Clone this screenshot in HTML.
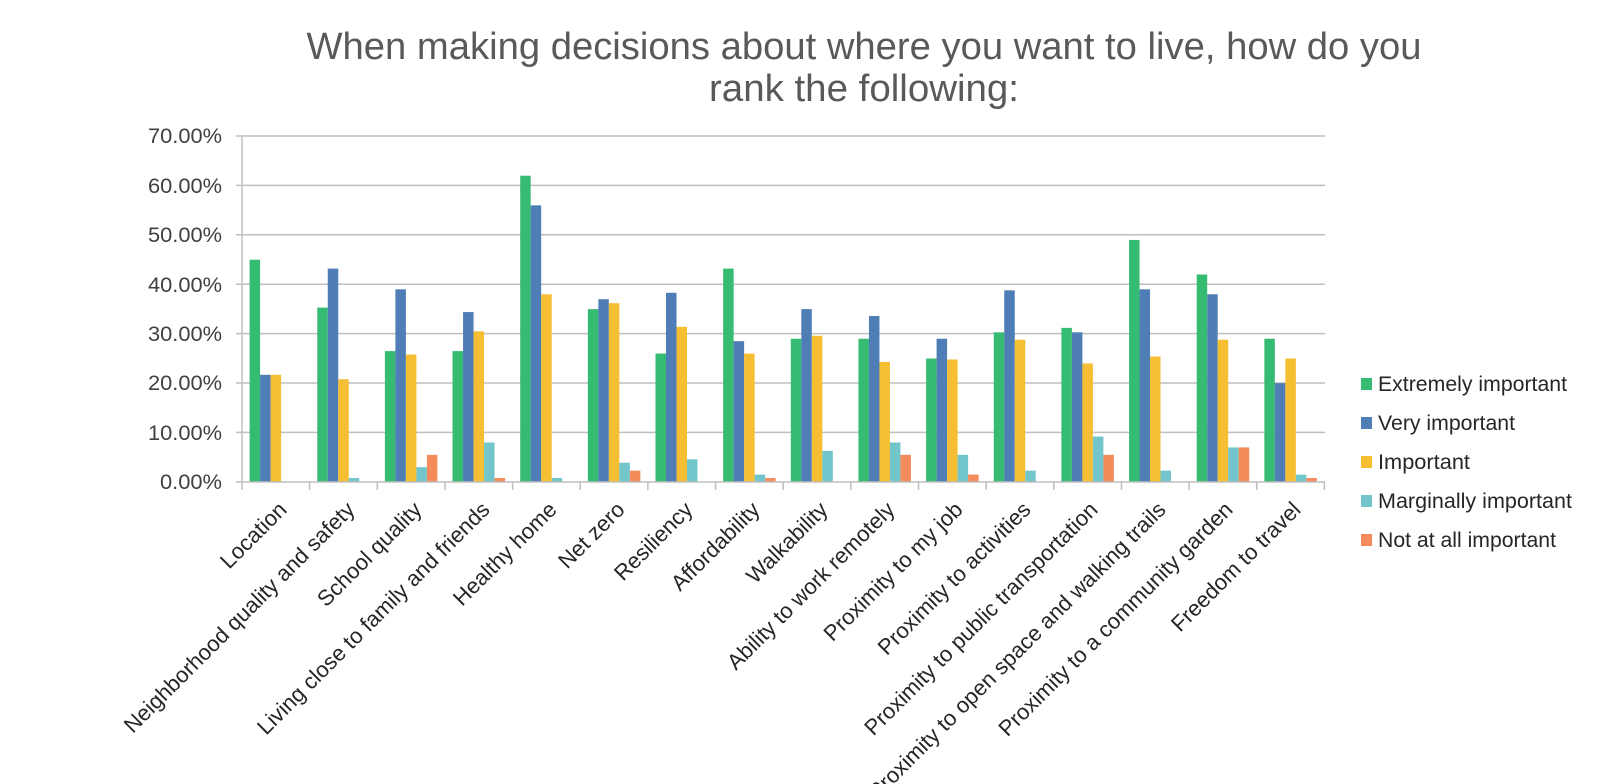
<!DOCTYPE html>
<html><head><meta charset="utf-8"><style>
html,body{margin:0;padding:0;background:#fff;}
svg{display:block;}
</style></head><body>
<svg id="c" width="1600" height="784" xmlns="http://www.w3.org/2000/svg" font-family="'Liberation Sans', sans-serif">
<g fill="#595959" font-size="38" text-anchor="middle">
<text x="864" y="59" textLength="1115" lengthAdjust="spacingAndGlyphs">When making decisions about where you want to live, how do you</text>
<text x="864" y="101" textLength="310" lengthAdjust="spacingAndGlyphs">rank the following:</text>
</g>
<g stroke="#BFBFBF" stroke-width="1.5">
<line x1="236" y1="136" x2="1325" y2="136"/>
<line x1="236" y1="185.4" x2="1325" y2="185.4"/>
<line x1="236" y1="234.8" x2="1325" y2="234.8"/>
<line x1="236" y1="284.2" x2="1325" y2="284.2"/>
<line x1="236" y1="333.6" x2="1325" y2="333.6"/>
<line x1="236" y1="383" x2="1325" y2="383"/>
<line x1="236" y1="432.4" x2="1325" y2="432.4"/>
<line x1="242" y1="136" x2="242" y2="482"/>
</g>
<g fill="#404040" font-size="21" text-anchor="end">
<text x="222" y="143" textLength="74" lengthAdjust="spacingAndGlyphs">70.00%</text>
<text x="222" y="193" textLength="74" lengthAdjust="spacingAndGlyphs">60.00%</text>
<text x="222" y="242" textLength="74" lengthAdjust="spacingAndGlyphs">50.00%</text>
<text x="222" y="292" textLength="74" lengthAdjust="spacingAndGlyphs">40.00%</text>
<text x="222" y="341" textLength="74" lengthAdjust="spacingAndGlyphs">30.00%</text>
<text x="222" y="390" textLength="74" lengthAdjust="spacingAndGlyphs">20.00%</text>
<text x="222" y="440" textLength="74" lengthAdjust="spacingAndGlyphs">10.00%</text>
<text x="222" y="489" textLength="62" lengthAdjust="spacingAndGlyphs">0.00%</text>
</g>
<g id="bars"></g>
<g stroke="#BFBFBF" stroke-width="1.5" id="axis">
<line x1="236" y1="482" x2="1325" y2="482"/>
</g>
<g fill="#262626" font-size="22" text-anchor="end">
<text transform="translate(288,511) rotate(-45)">Location</text>
<text transform="translate(356,511) rotate(-45)">Neighborhood quality and safety</text>
<text transform="translate(423,511) rotate(-45)">School quality</text>
<text transform="translate(491,511) rotate(-45)">Living close to family and friends</text>
<text transform="translate(558,511) rotate(-45)">Healthy home</text>
<text transform="translate(626,511) rotate(-45)">Net zero</text>
<text transform="translate(694,511) rotate(-45)">Resiliency</text>
<text transform="translate(761,511) rotate(-45)">Affordability</text>
<text transform="translate(829,511) rotate(-45)">Walkability</text>
<text transform="translate(896,511) rotate(-45)">Ability to work remotely</text>
<text transform="translate(964,511) rotate(-45)">Proximity to my job</text>
<text transform="translate(1032,511) rotate(-45)">Proximity to activities</text>
<text transform="translate(1099,511) rotate(-45)">Proximity to public transportation</text>
<text transform="translate(1167,511) rotate(-45)">Proximity to open space and walking trails</text>
<text transform="translate(1234,511) rotate(-45)">Proximity to a community garden</text>
<text transform="translate(1302,511) rotate(-45)">Freedom to travel</text>
</g>
<g font-size="21" fill="#262626">
<rect x="1361" y="378" width="11" height="12" fill="#36BC72"/><text x="1378" y="391" textLength="189" lengthAdjust="spacingAndGlyphs">Extremely important</text>
<rect x="1361" y="417" width="11" height="12" fill="#4F7DB5"/><text x="1378" y="430" textLength="137" lengthAdjust="spacingAndGlyphs">Very important</text>
<rect x="1361" y="456" width="11" height="12" fill="#F6BE33"/><text x="1378" y="469" textLength="92" lengthAdjust="spacingAndGlyphs">Important</text>
<rect x="1361" y="495" width="11" height="12" fill="#72C6CB"/><text x="1378" y="508" textLength="194" lengthAdjust="spacingAndGlyphs">Marginally important</text>
<rect x="1361" y="534" width="11" height="12" fill="#F58B5B"/><text x="1378" y="547" textLength="178" lengthAdjust="spacingAndGlyphs">Not at all important</text>
</g>
</svg>
<script>
var d=[[45,21.7,21.7,0,0],[35.3,43.2,20.8,0.8,0],[26.5,39,25.8,3,5.5],[26.5,34.4,30.5,8,0.8],[62,56,38,0.8,0],[35,37,36.2,3.9,2.3],[26,38.3,31.4,4.6,0],[43.2,28.5,26,1.5,0.8],[29,35,29.6,6.3,0],[29,33.6,24.3,8,5.5],[25,29,24.8,5.5,1.5],[30.3,38.8,28.8,2.3,0],[31.2,30.3,24,9.2,5.5],[49,39,25.4,2.3,0],[42,38,28.8,7,7],[29,20,25,1.5,0.8]];
var col=["#36BC72","#4F7DB5","#F6BE33","#72C6CB","#F58B5B"];
var ns="http://www.w3.org/2000/svg",g=document.getElementById("bars"),ax=document.getElementById("axis");
var cw=67.65,x0=242;
for(var i=0;i<16;i++){
 var l=x0+i*cw;
 for(var j=0;j<5;j++){
  var v=d[i][j];if(v<=0)continue;
  var h=v*4.94,r=document.createElementNS(ns,"rect");
  r.setAttribute("x",l+7.6+j*10.5);r.setAttribute("y",482-h);
  r.setAttribute("width",10.5);r.setAttribute("height",h);r.setAttribute("fill",col[j]);
  g.appendChild(r);
 }
}
for(var i=0;i<=16;i++){
 var t=document.createElementNS(ns,"line"),x=x0+i*cw;
 t.setAttribute("x1",x);t.setAttribute("x2",x);t.setAttribute("y1",482);t.setAttribute("y2",490);
 ax.appendChild(t);
}
</script>
</body></html>
